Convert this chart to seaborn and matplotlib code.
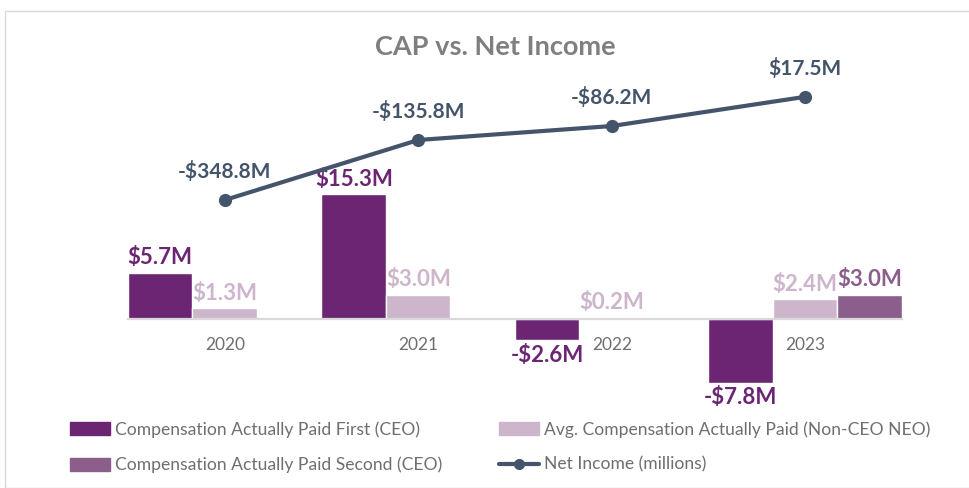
import matplotlib
matplotlib.use("Agg")
import matplotlib.pyplot as plt
import matplotlib.patches as mpatches
import numpy as np
import pandas as pd
import seaborn as sns

years = ["2020", "2021", "2022", "2023"]
cap_first_ceo = [5.7, 15.3, -2.6, -7.8]
cap_avg_neo = [1.3, 3.0, 0.2, 2.4]
cap_second_ceo = [np.nan, np.nan, np.nan, 3.0]
net_income = [-348.8, -135.8, -86.2, 17.5]

series_names = [
    "Compensation Actually Paid First (CEO)",
    "Avg. Compensation Actually Paid (Non-CEO NEO)",
    "Compensation Actually Paid Second (CEO)",
]
line_name = "Net Income (millions)"

c_first = "#6b2573"
c_avg = "#cdb5cc"
c_second = "#8b5e8b"
c_line = "#44546a"
c_text = "#6f6f6f"

df = pd.DataFrame({
    "year": years * 3,
    "value": cap_first_ceo + cap_avg_neo + cap_second_ceo,
    "series": [series_names[0]] * 4 + [series_names[1]] * 4 + [series_names[2]] * 4,
})

sns.set_theme(style="white")
plt.rcParams["font.family"] = ["Lato", "DejaVu Sans"]

W, H = 970, 488
fig = plt.figure(figsize=(W / 100, H / 100), dpi=100)
# axes box in pixels: x 128..902, y 60..400
ax = fig.add_axes([128 / W, 1 - 400 / H, 774 / W, 340 / H])

sns.barplot(
    data=df, x="year", y="value", hue="series", hue_order=series_names,
    palette=[c_first, c_avg, c_second], width=1.0, gap=0, dodge=True,
    saturation=1, ax=ax, legend=False, errorbar=None,
)
ax.set_xlim(-0.5, 3.5)
ax.set_ylim(-9.9, 31.7)
ax.set_xlabel("")
ax.set_ylabel("")
ax.set_yticks([])
for s in ["top", "right", "left"]:
    ax.spines[s].set_visible(False)
ax.spines["bottom"].set_position(("data", 0))
ax.spines["bottom"].set_color("#d9d9d9")
ax.spines["bottom"].set_linewidth(1.6)
ax.tick_params(axis="x", length=0, pad=13, labelsize=12.5, labelcolor=c_text)

offsets = [-1 / 3, 0, 1 / 3]
label_colors = [c_first, c_avg, c_second]
for k, vals in enumerate([cap_first_ceo, cap_avg_neo, cap_second_ceo]):
    for i, v in enumerate(vals):
        if np.isnan(v):
            continue
        txt = f"-${abs(v):.1f}M" if v < 0 else f"${v:.1f}M"
        ax.annotate(txt, (i + offsets[k], v), xytext=(0, 3 if v >= 0 else -3),
                    textcoords="offset points", ha="center",
                    va="bottom" if v >= 0 else "top", fontsize=16,
                    fontweight="bold", color=label_colors[k])

ax2 = ax.twinx()
sns.lineplot(x=list(range(len(years))), y=net_income, ax=ax2, color=c_line,
             linewidth=3, marker="o", markersize=9.5, markeredgewidth=0)
ax2.set_ylim(-1058.8, 148.2)
ax2.set_yticks([])
for s in ax2.spines.values():
    s.set_visible(False)
for i, v in enumerate(net_income):
    txt = f"-${abs(v):.1f}M" if v < 0 else f"${v:.1f}M"
    ax2.annotate(txt, (i, v), xytext=(0, 13), textcoords="offset points",
                 ha="center", va="bottom", fontsize=15, fontweight="bold",
                 color=c_line)

fig.text(495 / W, 1 - 47 / H, "CAP vs. Net Income", ha="center", va="center",
         fontsize=19.5, fontweight="bold", color="#7f7f7f")

# chart border
fig.patches.append(mpatches.Rectangle((5 / W, 0), 1.0, 1 - 11 / H,
                   transform=fig.transFigure, fill=False,
                   edgecolor="#d9d9d9", linewidth=1))

handles = [
    mpatches.Patch(color=c_first),
    mpatches.Patch(color=c_second),
    mpatches.Patch(color=c_avg),
    plt.Line2D([], [], color=c_line, linewidth=3, marker="o", markersize=7),
]
labels = [series_names[0], series_names[2], series_names[1], line_name]
fig.legend(handles, labels, ncol=2, loc="upper left",
           bbox_to_anchor=(70 / W, 1 - 421 / H), frameon=False,
           fontsize=12.6, labelcolor=c_text, handlelength=2.3, handleheight=0.75,
           handletextpad=0.3, columnspacing=3.2, labelspacing=1.1,
           borderpad=0, borderaxespad=0)

fig.savefig("out.png", dpi=100)
